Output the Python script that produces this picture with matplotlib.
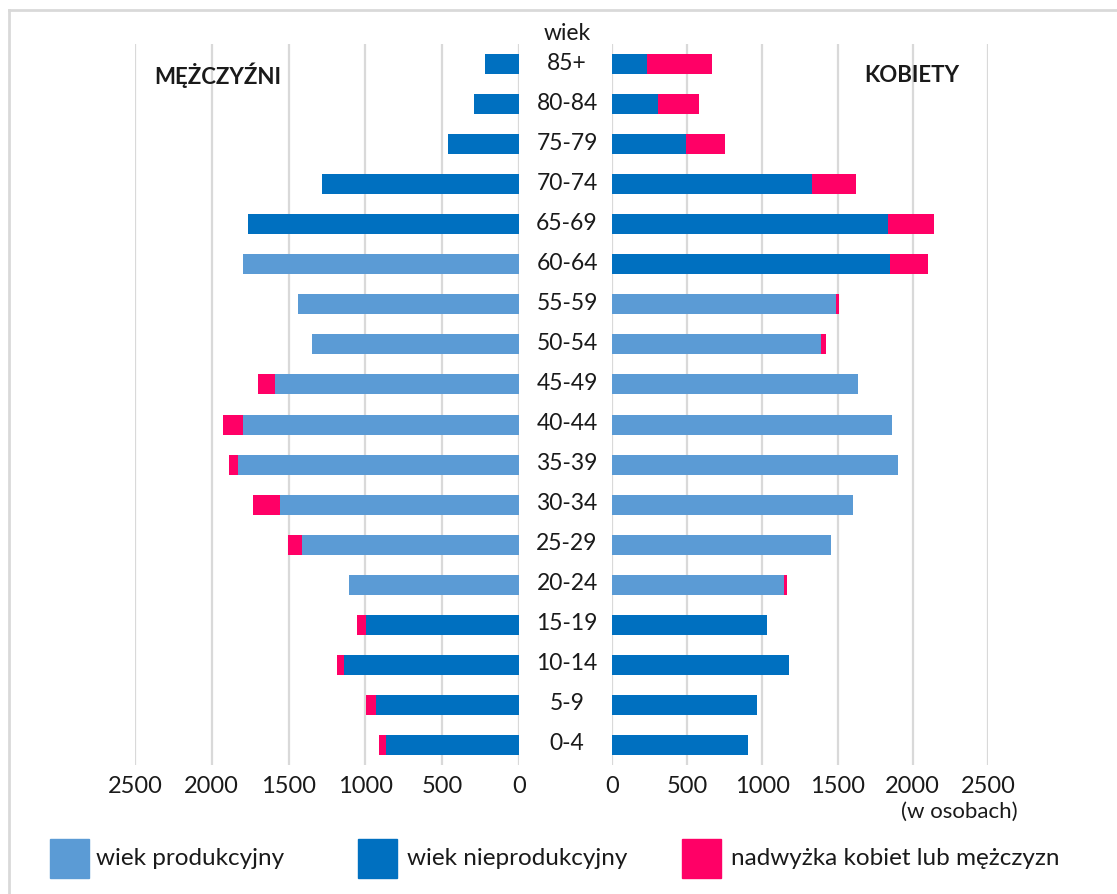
import matplotlib
matplotlib.use("Agg")
import matplotlib.pyplot as plt
from matplotlib.patches import Rectangle
from matplotlib.transforms import blended_transform_factory
import numpy as np

plt.rcParams['font.family'] = ['Lato', 'DejaVu Sans']

ages = ["0-4", "5-9", "10-14", "15-19", "20-24", "25-29", "30-34", "35-39", "40-44",
        "45-49", "50-54", "55-59", "60-64", "65-69", "70-74", "75-79", "80-84", "85+"]

# Men: base bar (productive or non-productive) and surplus
men_base = [868, 933, 1139, 998, 1105, 1413, 1556, 1831, 1797,
            1589, 1348, 1439, 1797, 1764, 1283, 462, 293, 221]
men_surplus = [45, 65, 46, 57, 0, 91, 176, 57, 130,
               110, 0, 0, 0, 0, 0, 0, 0, 0]
men_productive = [False, False, False, False, True, True, True, True, True,
                  True, True, True, True, False, False, False, False, False]

# Women
women_base = [904, 964, 1177, 1031, 1144, 1456, 1602, 1902, 1862,
              1636, 1390, 1487, 1848, 1835, 1328, 492, 306, 233]
women_surplus = [0, 0, 0, 0, 20, 0, 0, 0, 0,
                 0, 30, 22, 253, 306, 294, 259, 272, 432]
women_productive = [False, False, False, False, True, True, True, True, True,
                    True, True, True, False, False, False, False, False, False]

ticks = [0, 500, 1000, 1500, 2000, 2500]
legend_labels = ["wiek produkcyjny", "wiek nieprodukcyjny", "nadwyżka kobiet lub mężczyzn"]

C_PROD = "#5B9BD5"
C_NONPROD = "#0070C0"
C_SURPLUS = "#FF0066"
GRID = "#D9D9D9"
TXT = "#1a1a1a"

W, H = 1117, 895
fig = plt.figure(figsize=(W / 100, H / 100), dpi=100)

def fx(px):
    return px / W

def fy(py):
    return 1 - py / H

axL = fig.add_axes([fx(135), fy(766), fx(519 - 135), (766 - 45) / H])
axR = fig.add_axes([fx(612), fy(766), fx(988 - 612), (766 - 45) / H])

y = np.arange(len(ages))
bh = 0.5

for ax, base, surplus, prod in [(axL, men_base, men_surplus, men_productive),
                                (axR, women_base, women_surplus, women_productive)]:
    colors = [C_PROD if p else C_NONPROD for p in prod]
    ax.barh(y, base, height=bh, color=colors, zorder=3)
    ax.barh(y, surplus, left=base, height=bh, color=C_SURPLUS, zorder=3)
    ax.set_ylim(-0.5, len(ages) - 0.5)
    ax.set_yticks([])
    ax.set_xticks(ticks)
    ax.set_xticklabels([str(t) for t in ticks], fontsize=17, color=TXT)
    ax.tick_params(axis='x', length=0, pad=7)
    for s in ax.spines.values():
        s.set_visible(False)
    for t in ticks:
        ax.axvline(t, color=GRID, lw=1.6, zorder=1)

axL.set_xlim(2500, 0)
axR.set_xlim(0, 2500)

# Age labels in the middle
tr = blended_transform_factory(fig.transFigure, axL.transData)
for yi, lab in zip(y, ages):
    axL.text(fx(567), yi + 0.05, lab, transform=tr, ha='center', va='center',
             fontsize=16.5, color=TXT, clip_on=False)
fig.text(fx(567), fy(33), "wiek", ha='center', va='center', fontsize=16.5, color=TXT)

fig.text(fx(218), fy(75), "MĘŻCZYŹNI", ha='center', va='center', fontsize=16,
         fontweight='bold', color=TXT)
fig.text(fx(912), fy(75), "KOBIETY", ha='center', va='center', fontsize=16,
         fontweight='bold', color=TXT)
fig.text(fx(959), fy(812), "(w osobach)", ha='center', va='center', fontsize=16, color=TXT)

# Legend drawn manually
leg = [(50, 96, C_PROD), (358, 407, C_NONPROD), (682, 731, C_SURPLUS)]
for (px0, tx, col), lab in zip(leg, legend_labels):
    fig.patches.append(Rectangle((fx(px0), fy(879)), fx(39), 39 / H, color=col,
                                 transform=fig.transFigure, figure=fig))
    fig.text(fx(tx), fy(859), lab, ha='left', va='center', fontsize=17.5, color=TXT)

# Outer frame
fig.add_artist(plt.Line2D([fx(9), fx(9)], [fy(11), 0], color="#D9D9D9", lw=2,
                          transform=fig.transFigure))
fig.add_artist(plt.Line2D([fx(9), 1], [fy(11), fy(11)], color="#D9D9D9", lw=2,
                          transform=fig.transFigure))

fig.savefig("out.png", dpi=100)
